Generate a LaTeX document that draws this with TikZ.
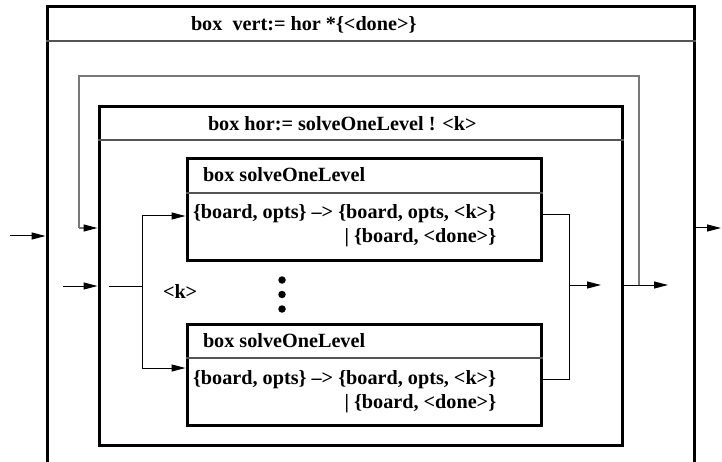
\documentclass[tikz,border=0pt]{standalone}
\usepackage{fontspec}
\setmainfont{Liberation Serif}
\usetikzlibrary{arrows.meta}

\definecolor{loopgray}{RGB}{120,120,120}
\definecolor{rulegray}{RGB}{85,85,85}

\begin{document}
\begin{tikzpicture}[x=1pt,y=-1pt,
  lbl/.style={font=\fontsize{20.2}{24}\selectfont\bfseries, inner sep=0pt, outer sep=0pt},
  heavybox/.style={draw, line width=3pt, inner sep=0pt},
  divider/.style={draw=rulegray, line width=1.1pt},
  wire/.style={line width=1pt},
  arr/.style={wire, -{Triangle[length=14pt,width=7pt]}},
  loopwire/.style={draw=loopgray, line width=1.2pt},
  looparr/.style={loopwire, -{Triangle[length=14pt,width=7pt,color=black]}},
  dot/.style={circle, fill=black, inner sep=0pt, minimum size=7.5pt}]

% page
\fill[white] (0,0) rectangle (722,462);
\useasboundingbox (0,0) rectangle (722,462);

% levels used by dividers and connectors
\coordinate (y41)  at (0,41);
\coordinate (y140) at (0,140);
\coordinate (y193) at (0,193);
\coordinate (y358) at (0,358);
\coordinate (y215) at (0,215);
\coordinate (y216) at (0,216);
\coordinate (y228) at (0,228);
\coordinate (y236) at (0,236);
\coordinate (y285) at (0,285);
\coordinate (y286) at (0,286);
\coordinate (y368) at (0,368);
\coordinate (y379) at (0,379);
\coordinate (y243) at (0,243);
\coordinate (y408) at (0,408);

% boxes
\node[heavybox, minimum width=647pt, minimum height=473pt] (vert) at (370.5,243.5) {};
\node[heavybox, minimum width=523pt, minimum height=338pt] (hor)  at (360.5,276) {};
\node[heavybox, minimum width=354pt, minimum height=101pt] (s1)   at (364,209.5) {};
\node[heavybox, minimum width=354pt, minimum height=101pt] (s2)   at (364,374.5) {};

% title dividers
\draw[divider] (vert.west |- y41)  -- (vert.east |- y41);
\draw[divider] (hor.west |- y140)  -- (hor.east |- y140);
\draw[divider] (s1.west |- y193)   -- (s1.east |- y193);
\draw[divider] (s2.west |- y358)   -- (s2.east |- y358);

% titles
\node[lbl, anchor=base west] (tvert) at (191,31)  {box\ \ vert:= hor *\{<done>\}};
\node[lbl, anchor=base west] (thor)  at (208,131) {box hor:= solveOneLevel ! <k>};

% first solveOneLevel box
\node[lbl, anchor=base west] (h1) at (203,182) {box solveOneLevel};
\node[lbl, anchor=base west] (a1) at (193,219) {\{board, opts\} \textendash> \{board, opts, <k>\}};
\node[lbl, anchor=base east] (b1) at (a1.base east |- y243) {\textbar\ \{board, <done>\}};

% second solveOneLevel box
\node[lbl, anchor=base west] (h2) at (203,347) {box solveOneLevel};
\node[lbl, anchor=base west] (a2) at (193,384) {\{board, opts\} \textendash> \{board, opts, <k>\}};
\node[lbl, anchor=base east] (b2) at (a2.base east |- y408) {\textbar\ \{board, <done>\}};

% token label and ellipsis
\node[lbl, anchor=base west] (klbl) at (163,298) {<k>};
\node[dot] (d1) at (282,280) {};
\node[dot] (d2) at (282,294.5) {};
\node[dot] (d3) at (282,309) {};

% free ends and bends
\coordinate (vin)   at (10,236);
\coordinate (vout)  at (721,228);
\coordinate (hfeed) at (63,286);
\coordinate (hin)   at (109,286);
\coordinate (fork)  at (142,286);
\coordinate (join)  at (569,285);
\coordinate (jtop)  at (569,215);
\coordinate (jbot)  at (569,379);
\coordinate (jout)  at (601,285);
\coordinate (hout)  at (668,285);
\coordinate (tap)   at (639,285);
\coordinate (lpTR)  at (639,76);
\coordinate (lpTL)  at (79,76);
\coordinate (lpBL)  at (79,228);

% outer input and output
\draw[arr] (vin) -- (vert.west |- y236);
\draw[arr] (vert.east |- y228) -- (vout);

% iteration loop
\draw[loopwire] (tap) -- (lpTR) -- (lpTL) -- (lpBL);
\draw[looparr] (lpBL) -- (hor.west |- y228);

% input to the parallel stage
\draw[arr] (hfeed) -- (hor.west |- y286);
\draw[wire] (hin) -- (fork);
\draw[arr] (fork) |- (s1.west |- y216);
\draw[arr] (fork) |- (s2.west |- y368);

% merge of the results
\draw[wire] (s1.east |- y215) -- (jtop) -- (jbot) -- (s2.east |- y379);
\draw[arr] (join) -- (jout);
\draw[arr] (hor.east |- y285) -- (hout);
\end{tikzpicture}
\end{document}
